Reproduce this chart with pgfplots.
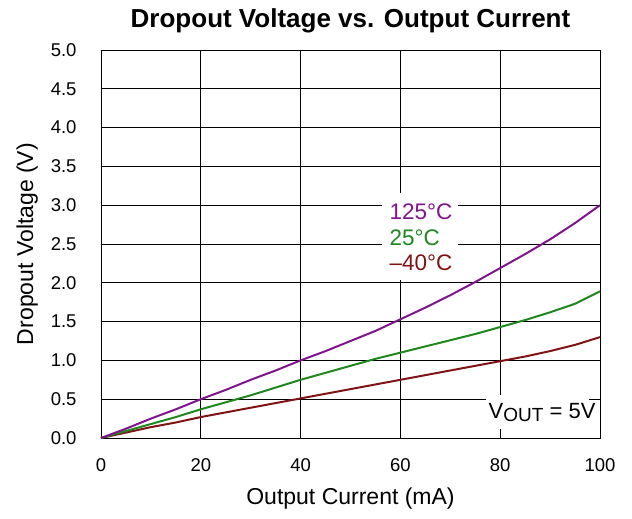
\documentclass[border=0pt]{standalone}
\usepackage{pgfplots}
\pgfplotsset{compat=1.18}
\usepackage{fontspec}
\setmainfont{Liberation Sans}
\definecolor{cpurple}{RGB}{128,20,140}
\definecolor{cgreen}{RGB}{30,135,30}
\definecolor{cred}{RGB}{128,20,20}
\begin{document}
\begin{tikzpicture}
\begin{axis}[
  scale only axis,
  width=499bp, height=388bp,
  xmin=0, xmax=100, ymin=0, ymax=5,
  xtick={0,20,...,100},
  ytick={0,0.5,...,5},
  yticklabel style={/pgf/number format/fixed,/pgf/number format/fixed zerofill,/pgf/number format/precision=1},
  /pgf/number format/assume math mode=true,
  grid=major,
  major grid style={black, line width=0.8pt},
  axis line style={black, line width=0.9pt},
  tick style={black},
  tick align=inside,
  major tick length=0pt,
  ticklabel style={font=\fontsize{18.5bp}{20bp}\selectfont},
  xticklabel style={yshift=-17bp},
  yticklabel style={xshift=-21bp},
  xlabel={Output Current (mA)},
  ylabel={Dropout Voltage (V)},
  label style={font=\fontsize{23bp}{26bp}\selectfont},
  xlabel style={yshift=-9bp},
  ylabel style={yshift=6bp},
  title={\textbf{Dropout Voltage vs. Output Current}},
  title style={font=\fontsize{26bp}{28bp}\selectfont, yshift=7bp},
  clip=false,
]
\addplot[cred, line width=2pt] coordinates {
(0,0) (5,0.07) (10,0.14) (15,0.20) (20,0.27) (25,0.33) (30,0.39) (35,0.45) (40,0.51)
(45,0.57) (50,0.63) (55,0.69) (60,0.75) (65,0.81) (70,0.87) (75,0.93) (80,0.99)
(85,1.05) (90,1.12) (95,1.20) (100,1.30)};
\addplot[cgreen, line width=2pt] coordinates {
(0,0) (5,0.09) (10,0.18) (15,0.27) (20,0.37) (25,0.46) (30,0.55) (35,0.65) (40,0.75)
(45,0.84) (50,0.93) (55,1.02) (60,1.10) (65,1.18) (70,1.26) (75,1.34) (80,1.43)
(85,1.52) (90,1.62) (95,1.73) (100,1.89)};
\addplot[cpurple, line width=2pt] coordinates {
(0,0) (5,0.12) (10,0.25) (15,0.37) (20,0.50) (25,0.62) (30,0.75) (35,0.87) (40,1.00)
(45,1.12) (50,1.25) (55,1.38) (60,1.53) (65,1.68) (70,1.84) (75,2.01) (80,2.19)
(85,2.37) (90,2.56) (95,2.77) (100,3.00)};
\fill[white] (axis cs:56.3,2.04) rectangle (axis cs:71.6,3.16);
\node[anchor=west, inner sep=0pt, text=cpurple, font=\fontsize{22.5bp}{24bp}\selectfont] at (axis cs:57.8,2.91) {125°C};
\node[anchor=west, inner sep=0pt, text=cgreen, font=\fontsize{22.5bp}{24bp}\selectfont] at (axis cs:57.8,2.58) {25°C};
\node[anchor=west, inner sep=0pt, text=cred, font=\fontsize{22.5bp}{24bp}\selectfont] at (axis cs:57.8,2.26) {–40°C};
\fill[white] (axis cs:77.2,0.12) rectangle (axis cs:97.8,0.56);
\node[font=\fontsize{22bp}{24bp}\selectfont] at (axis cs:88.4,0.33) {V\raisebox{-0.25ex}{\fontsize{19bp}{21bp}\selectfont OUT} = 5V};
\end{axis}
\path ([xshift=-101bp,yshift=-81bp]current axis.south west) rectangle ([xshift=531bp,yshift=438bp]current axis.south west);
\end{tikzpicture}
\end{document}
